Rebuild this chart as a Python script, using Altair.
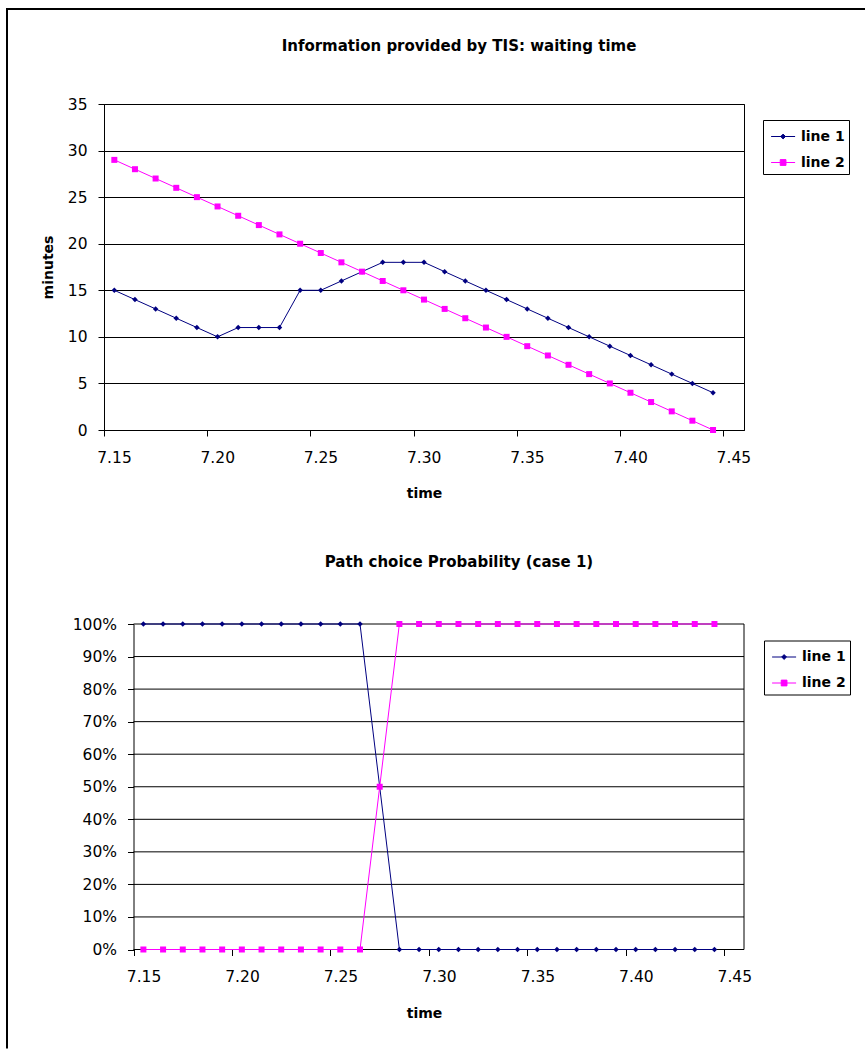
import altair as alt
import pandas as pd

# ---------------- data ----------------
times = [7.155, 7.165, 7.175, 7.185, 7.195, 7.205, 7.215, 7.225, 7.235, 7.245,
         7.255, 7.265, 7.275, 7.285, 7.295, 7.305, 7.315, 7.325, 7.335, 7.345,
         7.355, 7.365, 7.375, 7.385, 7.395, 7.405, 7.415, 7.425, 7.435, 7.445]

wait_line1 = [15, 14, 13, 12, 11, 10, 11, 11, 11, 15,
              15, 16, 17, 18, 18, 18, 17, 16, 15, 14,
              13, 12, 11, 10, 9, 8, 7, 6, 5, 4]
wait_line2 = [29, 28, 27, 26, 25, 24, 23, 22, 21, 20,
              19, 18, 17, 16, 15, 14, 13, 12, 11, 10,
              9, 8, 7, 6, 5, 4, 3, 2, 1, 0]

prob_line1 = [1, 1, 1, 1, 1, 1, 1, 1, 1, 1,
              1, 1, 0.5, 0, 0, 0, 0, 0, 0, 0,
              0, 0, 0, 0, 0, 0, 0, 0, 0, 0]
prob_line2 = [0, 0, 0, 0, 0, 0, 0, 0, 0, 0,
              0, 0, 0.5, 1, 1, 1, 1, 1, 1, 1,
              1, 1, 1, 1, 1, 1, 1, 1, 1, 1]

series_names = ["line 1", "line 2"]
x_ticks = [7.15, 7.20, 7.25, 7.30, 7.35, 7.40, 7.45]
wait_ticks = [0, 5, 10, 15, 20, 25, 30, 35]
prob_ticks = [0, 0.1, 0.2, 0.3, 0.4, 0.5, 0.6, 0.7, 0.8, 0.9, 1.0]

title_top = "Information provided by TIS: waiting time"
title_bottom = "Path choice Probability (case 1)"

# ---------------- styling ----------------
NAVY = "#000080"
MAGENTA = "#FF00FF"
FONT = "DejaVu Sans"
LABEL_SIZE = 15.5
X_END = 7.46

# legend symbols: short line with a marker on it
SYM_LINE1 = "M-0.7,0H1.3M0.3,-0.2L0.5,0L0.3,0.2L0.1,0Z"
SYM_LINE2 = "M-0.7,0H1.3M0.06,-0.24H0.54V0.24H0.06Z"


def long_df(a, b):
    rows = []
    for t, v in zip(times, a):
        rows.append({"time": t, "series": series_names[0], "value": v})
    for t, v in zip(times, b):
        rows.append({"time": t, "series": series_names[1], "value": v})
    return pd.DataFrame(rows)


def panel(df, title, title_x, title_y, x_start, ydomain, yticks, yfmt, ytitle,
          width, height, legend_x, legend_y, frame_y1, frame_y2, top_frame,
          y_offset, draw_grid_rules):
    one = pd.DataFrame({"k": [0]})
    x_enc = alt.X(
        "time:Q",
        scale=alt.Scale(domain=[x_start, X_END], nice=False, zero=False),
        axis=alt.Axis(values=x_ticks, format=".2f", title="time", grid=False,
                      domain=not draw_grid_rules,
                      tickSize=6, labelPadding=14, titlePadding=21, labelOffset=10,
                      labelFont=FONT, labelFontSize=LABEL_SIZE, labelFontWeight="normal",
                      titleFont=FONT, titleFontSize=14, titleFontWeight="bold",
                      labelFlush=False, labelOverlap=False),
    )
    yaxis_kw = dict(values=yticks, format=yfmt, grid=not draw_grid_rules, tickSize=6,
                    labelPadding=11, offset=y_offset, labelOverlap=False,
                    labelFont=FONT, labelFontSize=LABEL_SIZE, labelFontWeight="normal")
    if ytitle:
        yaxis_kw.update(title=ytitle, titleFont=FONT, titleFontSize=14,
                        titleFontWeight="bold", titlePadding=12)
    else:
        yaxis_kw.update(title=None)
    y_enc = alt.Y("value:Q", scale=alt.Scale(domain=ydomain, nice=False, zero=False),
                  axis=alt.Axis(**yaxis_kw))

    layers = []
    if draw_grid_rules:
        # horizontal grid lines (also top and bottom edge of the plot area)
        grid_df = pd.DataFrame({"value": yticks, "time": [x_ticks[0]] * len(yticks),
                                "time_end": [X_END] * len(yticks)})
        layers.append(alt.Chart(grid_df).mark_rule(color="black", strokeWidth=1).encode(
            y=y_enc, x=x_enc, x2=alt.X2("time_end:Q")))
        # right edge of the plot area
        edge_df = pd.DataFrame({"time": [X_END], "value": [ydomain[0]], "value_end": [ydomain[1]]})
        layers.append(alt.Chart(edge_df).mark_rule(color="black", strokeWidth=1).encode(
            x=x_enc, y=y_enc, y2=alt.Y2("value_end:Q")))

    specs = [(series_names[0], NAVY, "diamond", 30), (series_names[1], MAGENTA, "square", 36)]
    for name, color, shape, size in specs:
        base = alt.Chart(df).transform_filter(alt.datum.series == name)
        layers.append(base.mark_line(color=color, strokeWidth=1).encode(x=x_enc, y=y_enc))
        layers.append(base.mark_point(shape=shape, filled=True, color=color, size=size,
                                      opacity=1, strokeWidth=0).encode(x=x_enc, y=y_enc))

    leg = alt.Legend(title=None, orient="none", legendX=legend_x, legendY=legend_y,
                     strokeColor="black", fillColor="white", padding=4,
                     symbolSize=576, symbolStrokeWidth=1, labelOffset=9, rowPadding=6,
                     labelFont=FONT, labelFontSize=14, labelFontWeight="bold",
                     labelColor="black")
    legend_layer = alt.Chart(df).transform_filter("false").mark_point(
        filled=True, opacity=1, strokeWidth=1
    ).encode(
        shape=alt.Shape("series:N", scale=alt.Scale(domain=series_names,
                                                     range=[SYM_LINE1, SYM_LINE2]), legend=leg),
        fill=alt.Fill("series:N", scale=alt.Scale(domain=series_names,
                                                   range=[NAVY, MAGENTA]), legend=leg),
        stroke=alt.Stroke("series:N", scale=alt.Scale(domain=series_names,
                                                       range=[NAVY, MAGENTA]), legend=leg),
    )
    layers.append(legend_layer)

    # chart title as a text element
    layers.append(alt.Chart(one).mark_text(
        font=FONT, fontSize=15, fontWeight="bold", color="black",
        align="center", baseline="middle"
    ).encode(x=alt.value(title_x), y=alt.value(title_y), text=alt.value(title)))

    # outer frame of the picture (decoration)
    layers.append(alt.Chart(one).mark_rule(color="black", strokeWidth=2, strokeCap="square").encode(
        x=alt.value(-97), y=alt.value(frame_y1), y2=alt.value(frame_y2)))
    if top_frame is not None:
        layers.append(alt.Chart(one).mark_rule(color="black", strokeWidth=2, strokeCap="square").encode(
            x=alt.value(-97), x2=alt.value(top_frame), y=alt.value(frame_y1)))

    view = alt.ViewBackground(stroke="black" if not draw_grid_rules else "transparent",
                              strokeWidth=1)
    return alt.layer(*layers).properties(width=width, height=height, view=view)


top = panel(long_df(wait_line1, wait_line2), title_top, 355, -58, 7.15,
            [0, 35], wait_ticks, "d", "minutes", 640, 326, 659, 16,
            -95, 430, 760, 0, False)
# bottom plot's axis sits 29.5 px further right than the top one
bottom = panel(long_df(prob_line1, prob_line2), title_bottom, 355, -62.5, 7.135,
               [0, 1], prob_ticks, ".0%", None, 640, 325.5, 660, 16.5,
               -90, 423.5, None, -29.5, True)

chart = alt.vconcat(top, bottom, spacing=-4).resolve_scale(
    shape="independent", fill="independent", stroke="independent",
    x="independent", y="independent"
).properties(
    padding={"left": 5, "top": 7, "right": 0, "bottom": 0},
    background="white",
).configure_axis(
    gridColor="black", gridOpacity=1, gridWidth=1,
    domainColor="black", domainWidth=1, tickColor="black", tickWidth=1,
    labelColor="black", titleColor="black",
)

chart.save("out.html", embed_options={"renderer": "svg", "actions": False})
